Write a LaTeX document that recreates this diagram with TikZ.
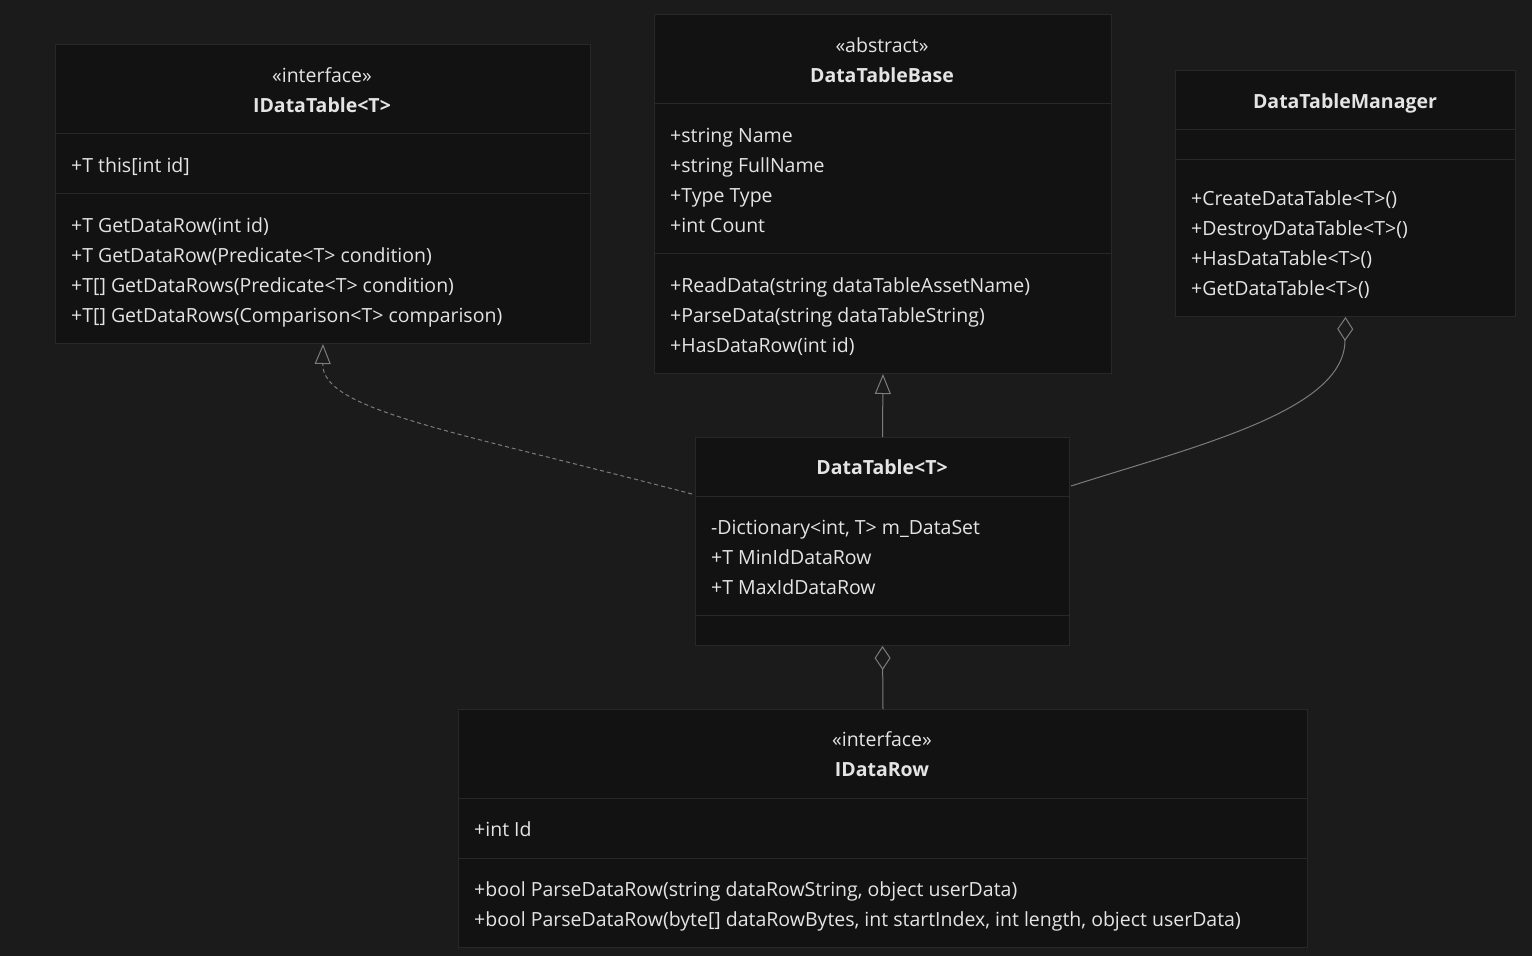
\documentclass[tikz,border=0pt]{standalone}
\usepackage{fontspec}
\setmainfont{Open Sans}
\usetikzlibrary{arrows.meta,calc}
\definecolor{bg}{HTML}{1B1B1B}
\definecolor{boxbg}{HTML}{121212}
\definecolor{boxline}{HTML}{282828}
\definecolor{txt}{HTML}{E4E4E4}
\definecolor{conn}{HTML}{7C7C7C}
\tikzset{
  umlbox/.style={draw=boxline, fill=boxbg, line width=1pt, anchor=north west, inner sep=0pt},
  divider/.style={draw=boxline, line width=1pt},
  member/.style={anchor=base west, inner sep=0pt, text=txt, font=\fontsize{19.5}{23}\selectfont},
  ctext/.style={anchor=base, inner sep=0pt, text=txt, font=\fontsize{19.5}{23}\selectfont},
  ttext/.style={anchor=base, inner sep=0pt, text=txt, font=\fontsize{19.5}{23}\selectfont\bfseries},
  conline/.style={draw=conn, line width=1pt},
  realize/.style={conline, dashed, dash pattern=on 4pt off 3pt, -{Triangle[open, length=20pt, width=16pt, line width=1pt]}},
  inherit/.style={conline, -{Triangle[open, length=20pt, width=16pt, line width=1pt]}},
  aggreg/.style={conline, -{Diamond[open, length=24pt, width=16pt, line width=1pt]}},
}
\begin{document}
\begin{tikzpicture}[x=1pt,y=-1pt]
\fill[bg] (0,0) rectangle (1532,956);
\useasboundingbox (0,0) rectangle (1532,956);

% IDataTable<T>
\node[umlbox, minimum width=535pt, minimum height=299pt] (idt) at (55,44) {};
\draw[divider] (55,133) -- (590,133);
\draw[divider] (55,193) -- (590,193);
\node[ctext] (idt-st) at (322,82) {«interface»};
\node[ttext] (idt-t) at (322,112) {IDataTable<T>};
\node[member] (idt-a1) at (71,172) {+T this[int id]};
\node[member] (idt-m1) at (71,232) {+T GetDataRow(int id)};
\node[member] (idt-m2) at (71,262) {+T GetDataRow(Predicate<T> condition)};
\node[member] (idt-m3) at (71,292) {+T[] GetDataRows(Predicate<T> condition)};
\node[member] (idt-m4) at (71,322) {+T[] GetDataRows(Comparison<T> comparison)};

% DataTableBase
\node[umlbox, minimum width=457pt, minimum height=359pt] (dtb) at (654,14) {};
\draw[divider] (654,103) -- (1111,103);
\draw[divider] (654,253) -- (1111,253);
\node[ctext] (dtb-st) at (882,52) {«abstract»};
\node[ttext] (dtb-t) at (882,82) {DataTableBase};
\node[member] (dtb-a1) at (670,142) {+string Name};
\node[member] (dtb-a2) at (670,172) {+string FullName};
\node[member] (dtb-a3) at (670,202) {+Type Type};
\node[member] (dtb-a4) at (670,232) {+int Count};
\node[member] (dtb-m1) at (670,292) {+ReadData(string dataTableAssetName)};
\node[member] (dtb-m2) at (670,322) {+ParseData(string dataTableString)};
\node[member] (dtb-m3) at (670,352) {+HasDataRow(int id)};

% DataTableManager
\node[umlbox, minimum width=340pt, minimum height=246pt] (dtm) at (1175,70) {};
\draw[divider] (1175,129) -- (1515,129);
\draw[divider] (1175,159) -- (1515,159);
\node[ttext] (dtm-t) at (1345,108) {DataTableManager};
\node[member] (dtm-m1) at (1191,205) {+CreateDataTable<T>()};
\node[member] (dtm-m2) at (1191,235) {+DestroyDataTable<T>()};
\node[member] (dtm-m3) at (1191,265) {+HasDataTable<T>()};
\node[member] (dtm-m4) at (1191,295) {+GetDataTable<T>()};

% DataTable<T>
\node[umlbox, minimum width=374pt, minimum height=208pt] (dt) at (695,437) {};
\draw[divider] (695,496) -- (1069,496);
\draw[divider] (695,615) -- (1069,615);
\node[ttext] (dt-t) at (882,474) {DataTable<T>};
\node[member] (dt-a1) at (711,534) {-Dictionary<int, T> m\_DataSet};
\node[member] (dt-a2) at (711,564) {+T MinIdDataRow};
\node[member] (dt-a3) at (711,594) {+T MaxIdDataRow};

% IDataRow
\node[umlbox, minimum width=849pt, minimum height=238pt] (idr) at (458,709) {};
\draw[divider] (458,798) -- (1307,798);
\draw[divider] (458,858) -- (1307,858);
\node[ctext] (idr-st) at (882,746) {«interface»};
\node[ttext] (idr-t) at (882,776) {IDataRow};
\node[member] (idr-a1) at (474,836) {+int Id};
\node[member] (idr-m1) at (474,896) {+bool ParseDataRow(string dataRowString, object userData)};
\node[member] (idr-m2) at (474,926) {+bool ParseDataRow(byte[] dataRowBytes, int startIndex, int length, object userData)};

% connectors
\coordinate (dtleft) at ($(dt.north west)+(-3,57)$);
\coordinate (dtright) at ($(dt.north east)+(1,49)$);
\draw[realize] (dtleft) .. controls (450,430) and (322,410) .. (idt.south);
\draw[inherit] (dt.north) -- (dtb.south);
\draw[aggreg] (dtright) .. controls (1200,445) and (1345,410) .. (1345,340) -- (dtm.south);
\draw[aggreg] (idr.north) -- (dt.south);
\end{tikzpicture}
\end{document}
